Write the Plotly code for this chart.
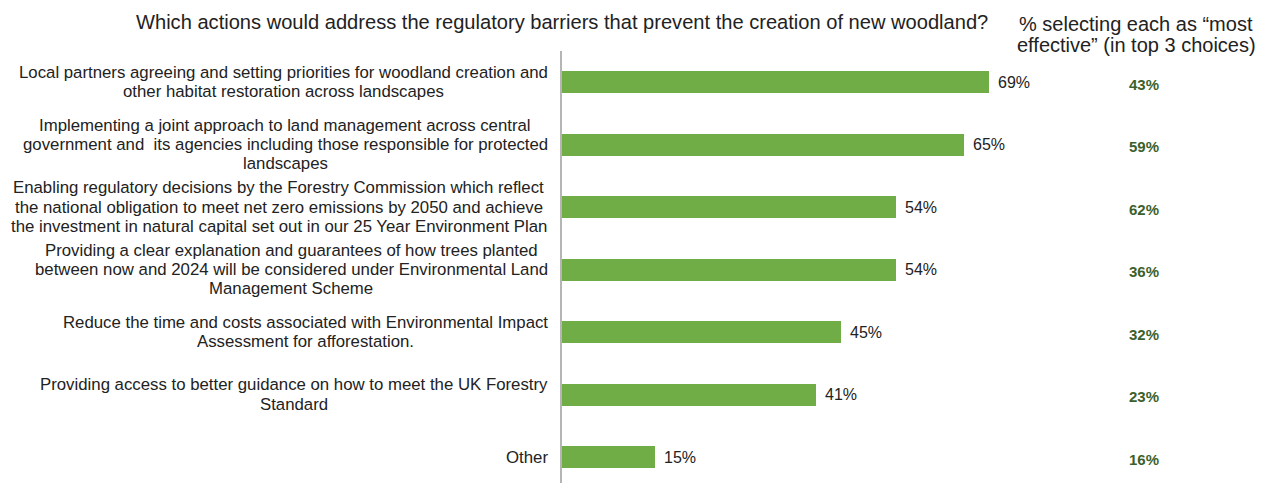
import plotly.graph_objects as go

# Survey results: share of respondents choosing each action (top 3 choices)
actions = [
    "Local partners agreeing and setting priorities for woodland creation and<br>other habitat restoration across landscapes",
    "Implementing a joint approach to land management across central<br>government and  its agencies including those responsible for protected<br>landscapes",
    "Enabling regulatory decisions by the Forestry Commission which reflect<br>the national obligation to meet net zero emissions by 2050 and achieve<br>the investment in natural capital set out in our 25 Year Environment Plan",
    "Providing a clear explanation and guarantees of how trees planted<br>between now and 2024 will be considered under Environmental Land<br>Management Scheme",
    "Reduce the time and costs associated with Environmental Impact<br>Assessment for afforestation.",
    "Providing access to better guidance on how to meet the UK Forestry<br>Standard",
    "Other",
]
pct_selected = [69, 65, 54, 54, 45, 41, 15]
pct_most_effective = [43, 59, 62, 36, 32, 23, 16]

title_text = "Which actions would address the regulatory barriers that prevent the creation of new woodland?"
column_header = "% selecting each as \u201cmost<br>effective\u201d (in top 3 choices)"

FONT = "Liberation Sans, Arial, sans-serif"
BAR_GREEN = "#70AD47"
DARK_GREEN = "#3D5F2C"
TEXT = "#222222"

W, H = 1264, 483
M_L, M_R, M_T, M_B = 562, 83, 51, 0
plot_w = W - M_L - M_R
plot_h = H - M_T - M_B

# Arial / Liberation Sans advance widths (1/1000 em), used to centre
# multi-line labels inside a right-aligned block with a tight line pitch.
_W = {" ": 278, ".": 278, ",": 278, "%": 889, "?": 556, "(": 333, ")": 333,
      "\u201c": 333, "\u201d": 333}
_W.update(dict(zip("abcdefghijklmnopqrstuvwxyz",
                   [556, 556, 500, 556, 556, 278, 556, 556, 222, 222, 500, 222, 833,
                    556, 556, 556, 556, 333, 500, 278, 556, 500, 722, 500, 500, 500])))
_W.update(dict(zip("ABCDEFGHIJKLMNOPQRSTUVWXYZ",
                   [667, 667, 722, 722, 667, 611, 778, 722, 278, 500, 667, 556, 833,
                    722, 778, 667, 778, 722, 667, 611, 722, 667, 944, 667, 667, 611])))
_W.update({d: 556 for d in "0123456789"})


def text_width(s, size):
    return sum(_W.get(ch, 556) for ch in s) * size / 1000.0


def px_to_paper_x(px):
    return (px - M_L) / plot_w


def px_to_paper_y(py):
    return (H - M_B - py) / plot_h


ypos = list(range(len(actions)))

fig = go.Figure()
fig.add_trace(go.Bar(
    x=pct_selected,
    y=ypos,
    orientation="h",
    width=0.352,
    marker=dict(color=BAR_GREEN, line=dict(width=0)),
    hoverinfo="skip",
))

LABEL_SIZE = 16.8
LABEL_PITCH = 19.3
LABEL_RIGHT = 548

annotations = []
for i, (label, v, m) in enumerate(zip(actions, pct_selected, pct_most_effective)):
    lines = label.split("<br>")
    widest = max(text_width(s, LABEL_SIZE) for s in lines)
    centre_px = LABEL_RIGHT - widest / 2
    n = len(lines)
    for k, line in enumerate(lines):
        annotations.append(dict(
            x=px_to_paper_x(centre_px), xref="paper", y=i, yref="y",
            text=line, showarrow=False,
            xanchor="center", yanchor="middle",
            yshift=-(k - (n - 1) / 2) * LABEL_PITCH,
            font=dict(family=FONT, size=LABEL_SIZE, color=TEXT),
        ))
    # value label at end of bar
    annotations.append(dict(
        x=v, xref="x", y=i, yref="y",
        text=f"{v}%", showarrow=False,
        xanchor="left", yanchor="middle", xshift=7,
        font=dict(family=FONT, size=16, color=TEXT),
    ))
    # "most effective" column
    annotations.append(dict(
        x=px_to_paper_x(1144), xref="paper", y=i, yref="y",
        text=f"<b>{m}%</b>", showarrow=False,
        xanchor="center", yanchor="middle", yshift=-2,
        font=dict(family=FONT, size=15, color=DARK_GREEN),
    ))

annotations.append(dict(
    x=px_to_paper_x(562), xref="paper", y=px_to_paper_y(22), yref="paper",
    text=title_text, showarrow=False,
    xanchor="center", yanchor="middle",
    font=dict(family=FONT, size=20.1, color=TEXT),
))
for k, line in enumerate(column_header.split("<br>")):
    annotations.append(dict(
        x=px_to_paper_x(1136), xref="paper", y=px_to_paper_y(24 + 21 * k), yref="paper",
        text=line, showarrow=False,
        xanchor="center", yanchor="middle",
        font=dict(family=FONT, size=20, color=TEXT),
    ))

fig.update_layout(
    width=W, height=H,
    margin=dict(l=M_L, r=M_R, t=M_T, b=M_B),
    paper_bgcolor="white", plot_bgcolor="white",
    showlegend=False,
    annotations=annotations,
    xaxis=dict(range=[0, 100], visible=False, fixedrange=True),
    yaxis=dict(
        range=[6.416, -0.496], showticklabels=False, showgrid=False,
        zeroline=False, showline=True, linecolor="#B5B5B5", linewidth=1.5,
        ticks="", fixedrange=True,
    ),
    bargap=0,
)

fig.write_html("out.html", config={"displayModeBar": False})
